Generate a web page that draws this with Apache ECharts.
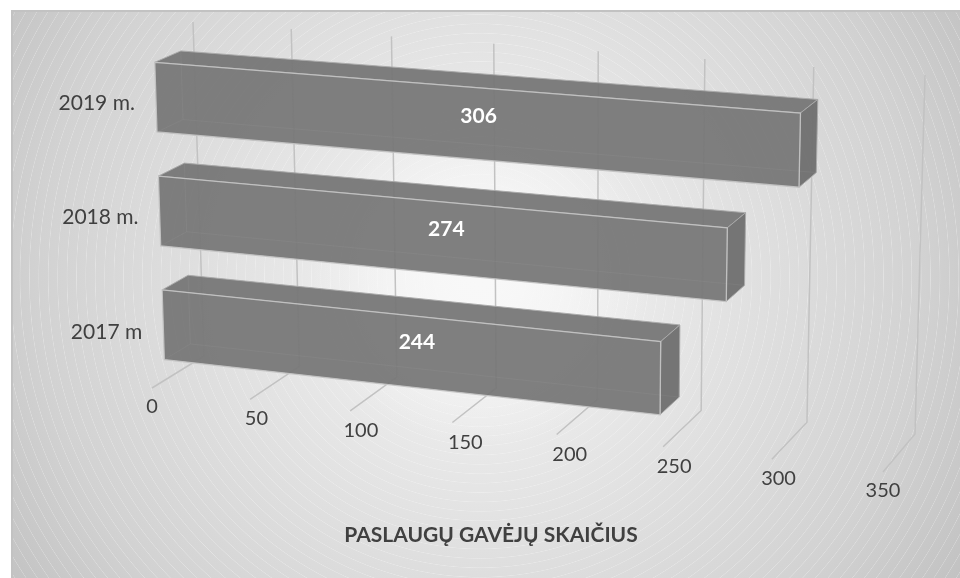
<!DOCTYPE html>
<html>
<head>
<meta charset="utf-8">
<style>
  html, body { margin: 0; padding: 0; background: #fff; }
  #panel {
    position: absolute; left: 11px; top: 10px; width: 949px; height: 568px;
    box-sizing: border-box; border-left: 2px solid #c2c2c2; border-top: 2px solid #c2c2c2;
    background:
      radial-gradient(circle at 467px 265px, #f8f8f8 0, rgba(248,248,248,0) 170px),
      repeating-radial-gradient(circle at 467px 265px, rgba(255,255,255,0) 0, rgba(255,255,255,0) 8.2px, rgba(255,255,255,.3) 8.7px, rgba(255,255,255,0) 9.4px),
      radial-gradient(circle at 467px 265px, #f8f8f8 0, #e6e6e6 200px, #d2d2d2 440px, #bfbfbf 590px);
  }
  #chart { position: absolute; left: 0; top: 0; width: 960px; height: 578px; }
</style>
</head>
<body>
<div id="panel"></div>
<div id="chart"></div>
<script src="https://cdn.jsdelivr.net/npm/echarts@6/dist/echarts.min.js"></script>
<script>
const categories = ['2017 m', '2018 m.', '2019 m.'];
const barValues = [244, 274, 306];
const tickValues = [0, 50, 100, 150, 200, 250, 300, 350];
const titleText = 'PASLAUGŲ GAVĖJŲ SKAIČIUS';

const textColor = '#404040';
const fontName = 'Lato';

// the 3d box the picture is drawn in: s along value, h up, d into the page
const box = {
    floorFront: [[152, 388], [883, 472]],
    floorBack: [[204, 356], [915, 434]],
    topFront: [[141, 44], [893, 102]],
    topBack: [[193, 22], [925, 75]]
};
const BAR_FRONT = 0.25, BAR_BACK = 0.75, BAND_FILL = 0.612;

function mix(a, b, k) {
    return [a[0] + (b[0] - a[0]) * k, a[1] + (b[1] - a[1]) * k];
}
function edge(e, s) {
    return mix(e[0], e[1], s);
}
function warp(t) {
    return t * 0.93 / (1 - 0.07 * t);
}
function project(t, h, d, noWarp) {
    const s = noWarp ? t : warp(t);
    const floor = mix(edge(box.floorFront, s), edge(box.floorBack, s), d);
    const top = mix(edge(box.topFront, s), edge(box.topBack, s), d);
    return mix(floor, top, h);
}
function toUnit(api, params, value, cat) {
    const p = api.coord([value, cat]);
    const g = params.coordSys;
    return [(p[0] - g.x) / g.width, (g.y + g.height - p[1]) / g.height];
}

function renderTick(params, api) {
    const v = api.value(0);
    const t = toUnit(api, params, v, 0)[0];
    const a = project(t, 0, 0), b = project(t, 0, 1), c = project(t, 1, 1);
    const lab = project(t, 0, 0, true);
    return {
        type: 'group',
        children: [
            {
                type: 'polyline',
                shape: { points: [a, b, c] },
                style: { fill: 'none', stroke: '#c2c2c2', lineWidth: 1.5 }
            },
            {
                type: 'text',
                style: {
                    x: lab[0], y: lab[1] + 19, text: String(v), fill: textColor,
                    font: '20px ' + fontName, textAlign: 'center', textVerticalAlign: 'middle'
                }
            }
        ]
    };
}

function renderBar(params, api) {
    const v = api.value(0), idx = api.value(1);
    const end = toUnit(api, params, v, idx)[0];
    const mid = toUnit(api, params, 0, idx)[1] - 0.005;
    const half = api.size([0, 1])[1] / params.coordSys.height * BAND_FILL / 2;
    const lo = mid - half, hi = mid + half;
    const fl = project(0, lo, BAR_FRONT), ftl = project(0, hi, BAR_FRONT);
    const fr = project(end, lo, BAR_FRONT), ftr = project(end, hi, BAR_FRONT);
    const bl = project(0, lo, BAR_BACK), btl = project(0, hi, BAR_BACK);
    const br = project(end, lo, BAR_BACK), btr = project(end, hi, BAR_BACK);
    const center = project(end / 2, mid, 0.5);
    const labelPos = project(0, mid, 0);
    return {
        type: 'group',
        children: [
            { type: 'polygon', shape: { points: [ftl, ftr, btr, btl] },
              style: { fill: '#767676', opacity: 0.94, stroke: '#a9a9a9', lineWidth: 1 } },
            { type: 'polygon', shape: { points: [ftr, fr, br, btr] },
              style: { fill: '#6f6f6f', opacity: 0.95, stroke: '#a9a9a9', lineWidth: 1 } },
            { type: 'polygon', shape: { points: [ftl, ftr, fr, fl] },
              style: { fill: '#777777', opacity: 0.94, stroke: '#c4c4c4', lineWidth: 1.3 } },
            { type: 'polyline', shape: { points: [fl, bl, br] },
              style: { fill: 'none', stroke: 'rgba(200,200,200,0.07)', lineWidth: 1 } },
            { type: 'polyline', shape: { points: [bl, btl] },
              style: { fill: 'none', stroke: 'rgba(200,200,200,0.07)', lineWidth: 1 } },
            { type: 'text', style: {
                x: center[0], y: center[1] - 0.5, text: String(v), fill: '#fff',
                font: 'bold 21px ' + fontName, textAlign: 'center', textVerticalAlign: 'middle' } },
            { type: 'text', style: {
                x: labelPos[0] - 8, y: labelPos[1], text: categories[idx], fill: textColor,
                font: '21px ' + fontName, textAlign: 'right', textVerticalAlign: 'middle' } }
        ]
    };
}

const chart = echarts.init(document.getElementById('chart'));
chart.setOption({
    animation: false,
    backgroundColor: 'transparent',
    title: {
        text: titleText,
        left: 486, top: 530, textAlign: 'center', textVerticalAlign: 'middle',
        textStyle: { color: textColor, fontFamily: fontName, fontWeight: 'bold', fontSize: 21 }
    },
    grid: { left: 100, right: 100, top: 100, bottom: 100 },
    xAxis: { type: 'value', min: 0, max: 350, interval: 50, show: false },
    yAxis: { type: 'category', data: categories, show: false },
    series: [
        {
            type: 'custom', name: 'ticks', renderItem: renderTick, clip: false, z: 1,
            data: tickValues.map(v => [v, 0]), encode: { x: 0, y: 1 }
        },
        {
            type: 'custom', name: 'bars', renderItem: renderBar, clip: false, z: 2,
            data: barValues.map((v, i) => [v, i]), encode: { x: 0, y: 1 }
        }
    ]
});
</script>
</body>
</html>
